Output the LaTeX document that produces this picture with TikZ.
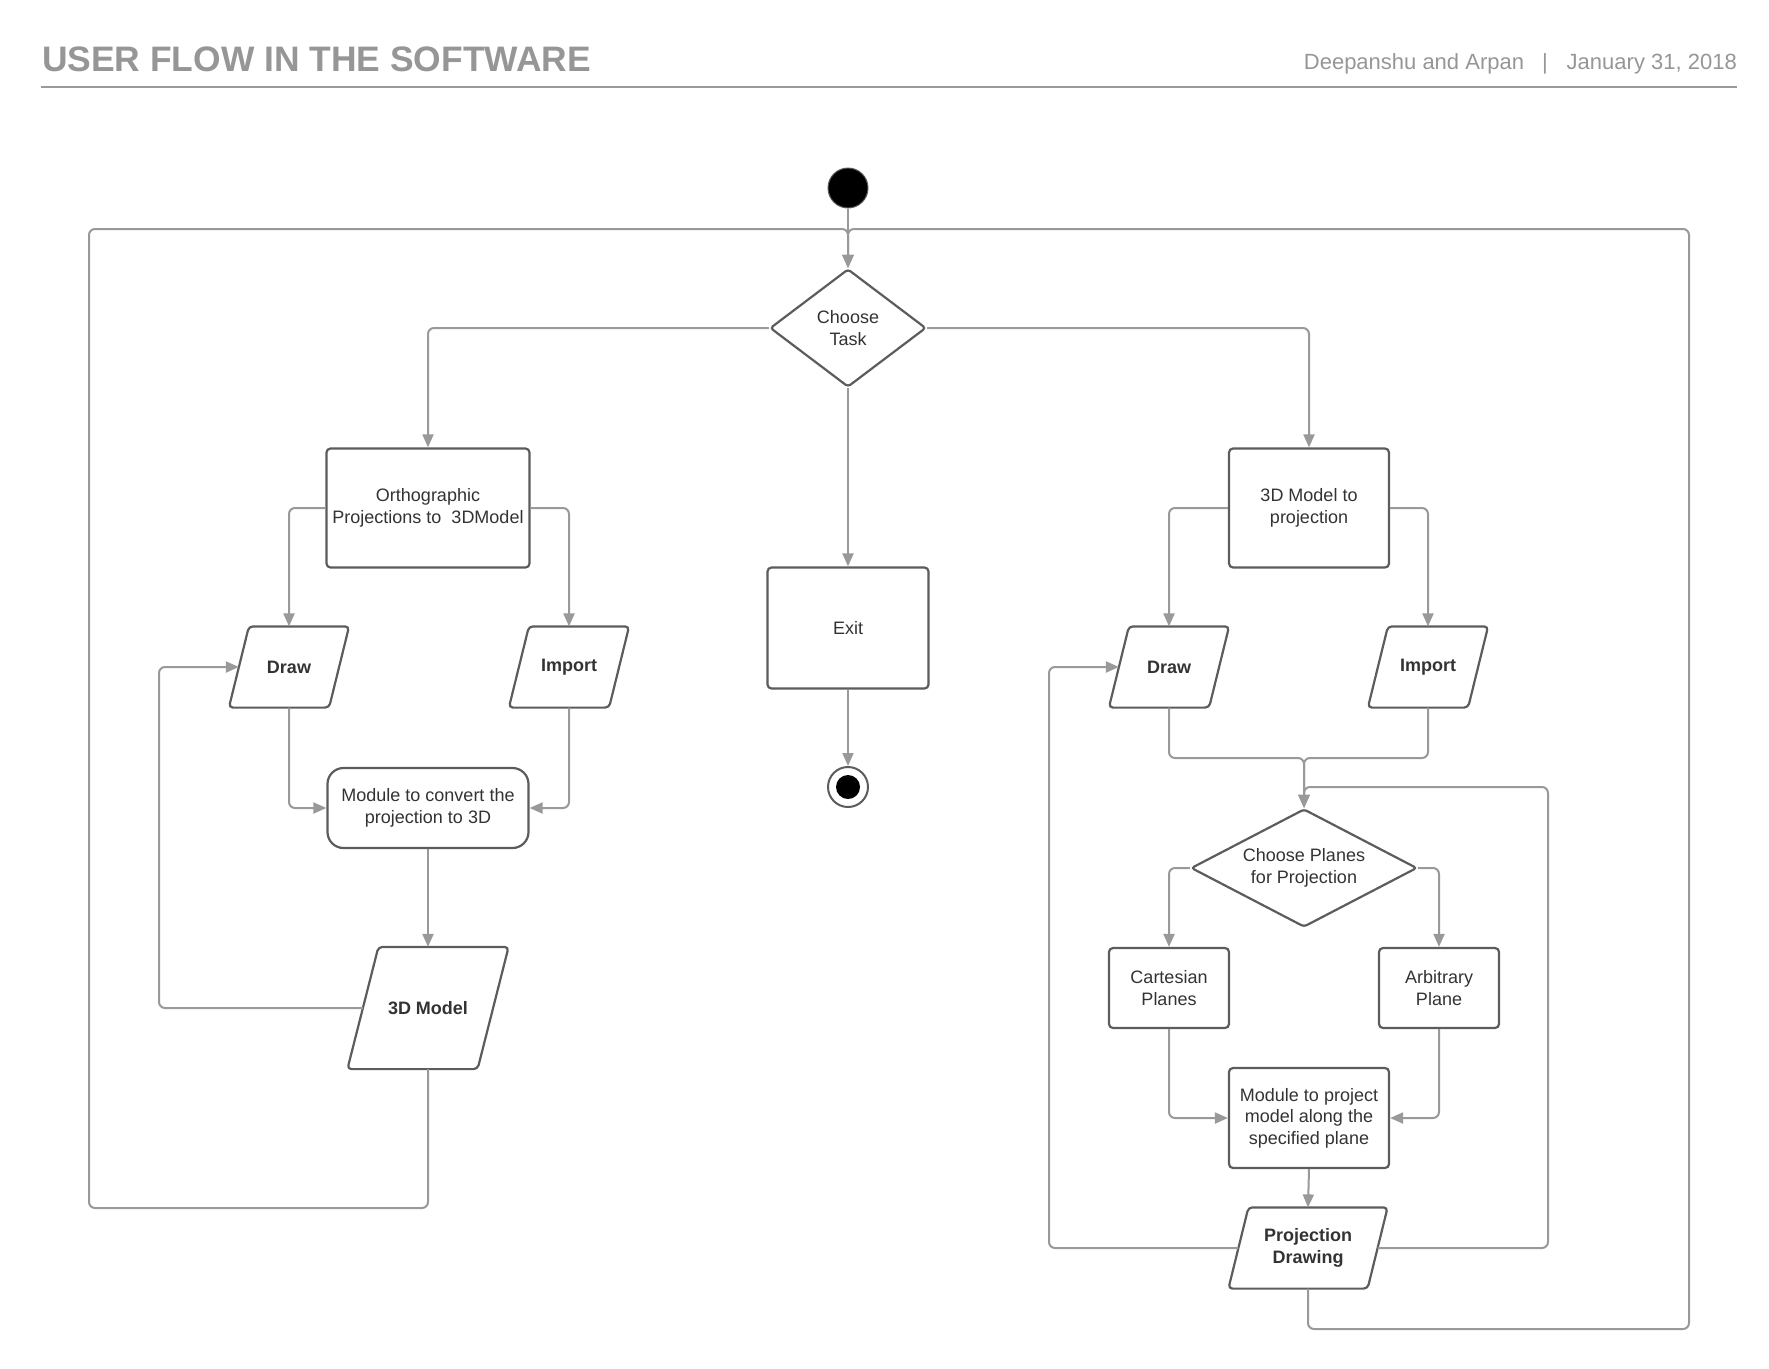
\documentclass[tikz,border=0pt]{standalone}
\usepackage{fontspec}
\setmainfont{Liberation Sans}
\usetikzlibrary{positioning}
\usetikzlibrary{arrows.meta}
\usetikzlibrary{shapes.geometric}
\usetikzlibrary{calc}

\definecolor{linegray}{HTML}{999999}
\definecolor{edgegray}{HTML}{5C5C5C}
\definecolor{textgray}{HTML}{333333}
\definecolor{titlegray}{HTML}{969696}

\tikzset{
  base/.style={draw=edgegray, line width=2.2pt, text=textgray, fill=white,
    font=\fontsize{18}{21.5}\selectfont, align=center, inner sep=2pt},
  activity/.style={base, rectangle, rounded corners=4pt},
  process/.style={base, rectangle, rounded corners=16pt},
  decision/.style={base, diamond, inner sep=0pt, rounded corners=3pt},
  inout/.style={base, rectangle, draw=none, fill=none, inner sep=0pt,
    font=\fontsize{18}{21.5}\selectfont\bfseries,
    append after command={\pgfextra{
      \draw[draw=edgegray, line width=2.2pt, rounded corners=4pt]
        ($(\tikzlastnode.south west)+(-#1,0)$) -- ($(\tikzlastnode.north west)+(#1,0)$)
        -- ($(\tikzlastnode.north east)+(#1,0)$) -- ($(\tikzlastnode.south east)+(-#1,0)$)
        -- cycle;}}},
  inout/.default=10,
  flow/.style={draw=linegray, line width=2pt, rounded corners=6pt,
    -{Triangle[length=13pt,width=11pt]}},
  header/.style={text=titlegray, inner sep=0pt},
}

\begin{document}
\begin{tikzpicture}[x=1pt, y=-1pt]
        \useasboundingbox (0,0) rectangle (1769,1368);

        \node[header, anchor=base west, font=\fontsize{35.4}{40}\selectfont\bfseries] (title) at (42,71) {USER FLOW IN THE SOFTWARE};
        \node[header, anchor=base east, font=\fontsize{22}{26}\selectfont] (byline) at (1737,69) {Deepanshu and Arpan\hspace{18pt}|\hspace{19pt}January 31, 2018};
        \draw[linegray, line width=2pt] (41,87) -- (1737,87);

        \node[circle, fill=black, draw=edgegray, line width=1pt, minimum size=40pt, inner sep=0pt] (start) at (848,188) {};
        \node[decision, minimum width=156pt, minimum height=118pt] (task) at (848,328) {Choose\\Task};

        \node[activity, minimum width=203pt, minimum height=119pt] (ortho) at (428,508) {Orthographic\\Projections to\ \ 3DModel};
        \node[activity, minimum width=161pt, minimum height=121pt] (exit) at (848,628) {Exit};
        \node[activity, minimum width=160pt, minimum height=119pt] (modeltoproj) at (1309,508) {3D Model to\\projection};

        \node[circle, draw=edgegray, line width=2pt, fill=white, minimum size=40pt, inner sep=0pt] (stop) at (848,787) {};
        \fill[black] (stop) circle (12pt);

        \node[inout, minimum width=98pt, minimum height=79pt] (ldraw) at (289,667) {Draw};
        \node[inout, minimum width=98pt, minimum height=79pt] (limport) at (569,667) {Import};
        \node[process, minimum width=201pt, minimum height=80pt] (convert) at (428,808) {Module to convert the\\projection to 3D};
        \node[inout=15.5, minimum width=128pt, minimum height=120pt] (model) at (428,1008) {3D Model};

        \node[inout, minimum width=98pt, minimum height=79pt] (rdraw) at (1169,667) {Draw};
        \node[inout, minimum width=98pt, minimum height=79pt] (rimport) at (1428,667) {Import};
        \node[decision, aspect=1.9, minimum width=226pt, minimum height=118pt] (planes) at (1304,868) {Choose Planes\\for Projection};
        \node[activity, minimum width=120pt, minimum height=80pt] (cartesian) at (1169,988) {Cartesian\\Planes};
        \node[activity, minimum width=120pt, minimum height=80pt] (arbitrary) at (1439,988) {Arbitrary\\Plane};
        \node[activity, minimum width=160pt, minimum height=100pt] (project) at (1309,1118) {Module to project\\model along the\\specified plane};
        \node[inout, minimum width=137pt, minimum height=79pt] (projdrawing) at (1308,1248) {Projection\\Drawing};

        \coordinate (topjoin) at (848,229);
        \coordinate (lcorner) at (89,1208);
        \coordinate (rcorner) at (1689,1329);
        \coordinate (lback) at (159,667);
        \coordinate (rback) at (1049,667);
        \coordinate (rjoin) at (1304,758);
        \coordinate (rup) at (1548,787);

        \draw[flow] (start) -- (task);
        \draw[flow] (model.south) |- (lcorner) |- (topjoin) -- (task.north);
        \draw[flow] (projdrawing.south) |- (rcorner) |- (topjoin) -- (task.north);
        \draw[flow] (task.west) -| (ortho.north);
        \draw[flow] (task.east) -| (modeltoproj.north);
        \draw[flow] (task.south) -- (exit.north);
        \draw[flow] (exit.south) -- (stop.north);

        \draw[flow] (ortho.west) -| (ldraw.north);
        \draw[flow] (ortho.east) -| (limport.north);
        \draw[flow] (ldraw.south) |- (convert.west);
        \draw[flow] (limport.south) |- (convert.east);
        \draw[flow] (convert.south) -- (model.north);
        \draw[flow] (model.west) -| (lback) -- (ldraw.west);

        \draw[flow] (modeltoproj.west) -| (rdraw.north);
        \draw[flow] (modeltoproj.east) -| (rimport.north);
        \draw[flow] (rdraw.south) |- (rjoin) -- (planes.north);
        \draw[flow] (rimport.south) |- (rjoin) -- (planes.north);
        \draw[flow] (planes.west) -| (cartesian.north);
        \draw[flow] (planes.east) -| (arbitrary.north);
        \draw[flow] (cartesian.south) |- (project.west);
        \draw[flow] (arbitrary.south) |- (project.east);
        \draw[flow] (project.south) -- (projdrawing.north);
        \draw[flow] (projdrawing.west) -| (rback) -- (rdraw.west);
        \draw[flow] (projdrawing.east) -| (rup) -| (planes.north);
\end{tikzpicture}
\end{document}
